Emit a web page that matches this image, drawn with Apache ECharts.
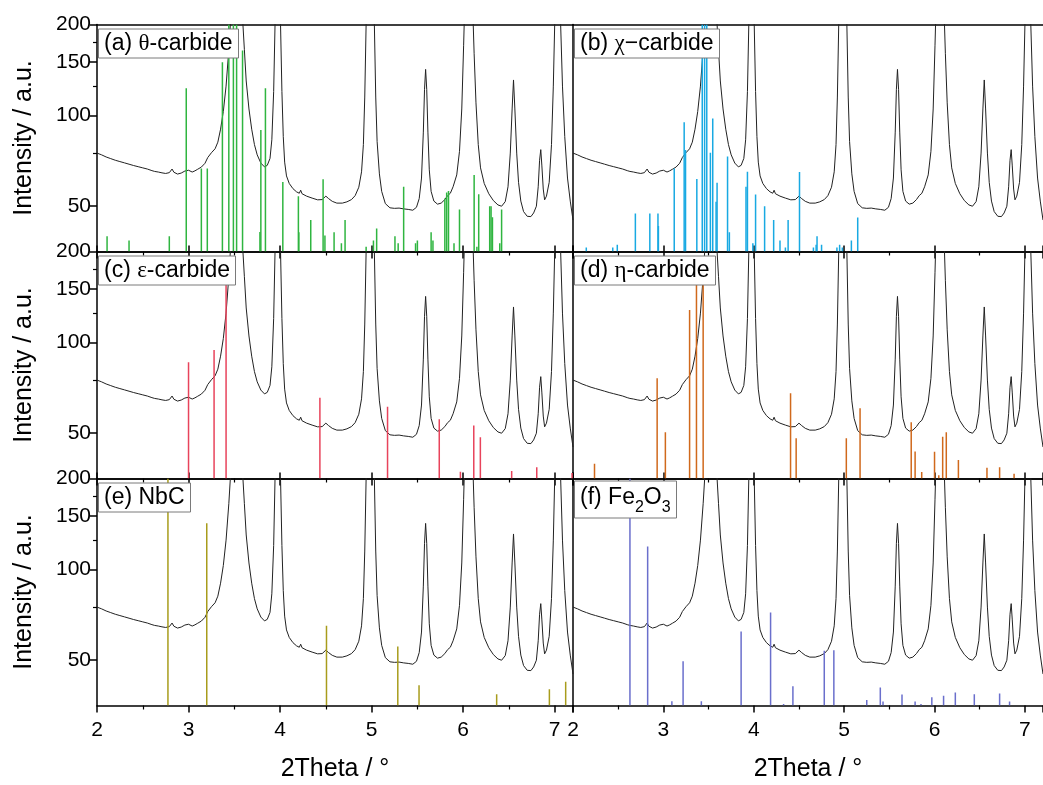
<!DOCTYPE html>
<html>
<head>
<meta charset="utf-8">
<script src="https://cdn.jsdelivr.net/npm/echarts@6/dist/echarts.min.js"></script>
<style>
html,body{margin:0;padding:0;background:#fff;}
#chart{width:1043px;height:785px;}
</style>
</head>
<body>
<div id="chart"></div>
<script>
// ---------------- data ----------------
const xMin = 2, xMax = 7.2;
const yMin = 35.4, yMax = 200;
const yTickValues = [50, 100, 150, 200];
const yMinorTickValues = [75, 125, 175];
const xTitle = '2Theta / °';
const yTitle = 'Intensity / a.u.';

// measured XRD pattern (2theta, intensity)
const pattern = [
[2.00,75.0],[2.05,74.0],[2.10,72.8],[2.15,71.9],[2.20,71.0],[2.25,70.3],[2.30,69.6],[2.35,68.9],
[2.40,68.2],[2.45,67.6],[2.50,67.0],[2.55,66.4],[2.60,65.6],[2.63,65.2],[2.65,66.2],[2.67,64.9],
[2.71,64.5],[2.75,64.2],[2.79,64.6],[2.82,66.4],[2.84,64.8],[2.88,63.9],[2.92,64.4],[2.96,65.4],
[3.00,65.8],[3.04,64.9],[3.07,65.5],[3.10,66.3],[3.14,67.4],[3.18,69.4],[3.21,72.5],[3.25,75.2],
[3.29,77.5],[3.32,81.5],[3.35,90],[3.38,103],[3.41,125],[3.44,165],[3.465,220],[3.50,520],
[3.53,700],[3.56,480],[3.59,210],[3.61,165],[3.63,130],[3.66,105],[3.69,90],[3.72,80],
[3.75,74],[3.79,69.5],[3.83,67.5],[3.86,68.3],[3.89,72],[3.91,83],[3.93,120],[3.945,200],
[3.975,800],[4.005,200],[4.02,120],[4.035,85],[4.05,70],[4.07,63],[4.10,59.5],[4.14,57.2],
[4.18,55.8],[4.21,55.2],[4.225,56.5],[4.24,55.0],[4.29,54.0],[4.35,53.2],[4.41,52.5],[4.46,52.6],
[4.50,54.0],[4.53,53.0],[4.57,51.9],[4.62,51.2],[4.68,51.2],[4.73,51.7],[4.78,52.6],[4.82,54.2],
[4.86,57.8],[4.89,65],[4.91,80],[4.925,115],[4.94,200],[4.985,1500],[5.03,200],[5.045,115],
[5.06,82],[5.085,64],[5.11,56],[5.15,51],[5.20,49.4],[5.25,49.2],[5.30,49.3],[5.35,49.0],
[5.40,48.8],[5.45,48.5],[5.49,49.6],[5.52,53],[5.545,62],[5.565,88],[5.578,122],[5.59,142],
[5.602,122],[5.615,88],[5.63,66],[5.65,56],[5.68,52],[5.72,50.8],[5.76,51.2],[5.80,52.6],
[5.83,54.2],[5.86,55.2],[5.89,58],[5.93,63.5],[5.96,76],[5.985,105],[6.005,170],[6.02,250],
[6.06,2000],[6.10,250],[6.12,160],[6.14,110],[6.165,80],[6.19,67],[6.23,59.5],[6.28,55],
[6.33,52.2],[6.38,50.5],[6.42,50.0],[6.46,51.8],[6.49,58],[6.515,75],[6.535,105],[6.55,131],
[6.565,105],[6.585,75],[6.605,60],[6.63,52],[6.66,48],[6.70,46.3],[6.74,46.2],[6.77,47.5],
[6.80,50],[6.82,58],[6.835,71],[6.848,77],[6.86,68],[6.875,57],[6.89,52.5],[6.91,54],
[6.94,60],[6.965,80],[6.985,125],[7.00,200],[7.03,800],[7.065,200],[7.085,125],[7.11,85],
[7.14,62],[7.17,52],[7.20,45]
];

// reference stick patterns (2theta, intensity on the panel scale)
const sticksTheta = [
[2.11,39.8],[2.35,38.5],[2.79,39.8],[2.975,123],[3.14,66.7],[3.205,66.7],[3.37,150],[3.44,400],
[3.49,400],[3.525,400],[3.59,164],[3.78,41.1],[3.79,89.4],[3.84,123],[4.03,60.2],[4.20,54],
[4.205,41],[4.335,45],[4.47,61.4],[4.49,40],[4.59,41],[4.67,37.7],[4.71,45],[4.94,36.7],
[5.02,38.5],[5.055,42.2],[5.255,39.8],[5.29,37.7],[5.35,58],[5.48,37.7],[5.50,38.5],[5.65,41],
[5.67,38.5],[5.80,53],[5.82,55.5],[5.84,56.2],[5.90,37.7],[5.96,48.8],[6.12,63.4],[6.15,36.7],
[6.17,54.8],[6.29,50],[6.305,50],[6.32,46],[6.40,37.7],[6.42,48.8]
];
const sticksChi = [
[2.147,36.5],[2.44,36.5],[2.49,37.3],[2.69,47.3],[2.85,47.3],[2.94,47.3],[2.945,43],[3.12,66.7],
[3.23,94.8],[3.245,76.8],[3.37,61.5],[3.43,400],[3.456,400],[3.48,400],[3.52,75.2],[3.546,97.7],
[3.583,51.7],[3.594,59.8],[3.71,73],[3.73,41],[3.914,58],[3.93,65],[3.99,37.7],[4.02,54.7],
[4.12,50],[4.22,45],[4.29,38.5],[4.35,36.5],[4.38,45],[4.506,64.9],[4.66,36.5],[4.69,37.3],
[4.70,39.8],[4.75,37.3],[4.92,36.5],[4.95,37.3],[4.98,36.5],[5.08,38.5],[5.15,45.9]
];
const sticksEps = [
[3.0,86],[3.279,94.4],[3.41,170],[4.435,65.6],[5.174,61.2],[5.739,55.6],[5.97,37.3],[6.116,53],
[6.188,48.5],[6.53,37.5],[6.804,38.6],[7.19,36.9]
];
const sticksEta = [
[2.238,39.6],[2.931,76],[3.022,50.4],[3.29,128],[3.366,165],[3.44,165],[4.407,67.8],[4.469,48.1],
[5.024,48.1],[5.176,60.5],[5.742,54.4],[5.785,43.5],[5.858,37.2],[6.0,43.4],[6.047,36.3],[6.09,48.7],
[6.13,50.4],[6.264,40.8],[6.58,38.4],[6.72,38.6],[6.88,36.7]
];
const sticksNbC = [
[2.775,400],[3.199,142.2],[4.507,65],[5.286,55.5],[5.518,41.3],[6.366,38.6],[6.942,40.1],[7.12,42.4]
];
const sticksFe2O3 = [
[2.63,400],[2.826,119],[3.094,36.6],[3.218,49.6],[3.42,36.6],[3.86,62.2],[4.186,71.9],[4.33,35.8],
[4.433,41],[4.78,53.7],[4.886,54],[5.25,36.9],[5.40,40.6],[5.43,36.5],[5.64,38.5],[5.785,36.5],
[5.85,35.8],[5.97,37.7],[6.1,38.1],[6.23,39.1],[6.44,38.6],[6.72,38.8],[6.83,36.5]
];

const panelLabels = [
  '{t|(a) }{g|θ}{t|-carbide}',
  '{t|(b) }{g|χ}{t|−carbide}',
  '{t|(c) }{g|ε}{t|-carbide}',
  '{t|(d) }{g|η}{t|-carbide}',
  '{t|(e) NbC}',
  '{t|(f) Fe}{s|2}{t|O}{s|3}'
];
const panelSticks = [sticksTheta, sticksChi, sticksEps, sticksEta, sticksNbC, sticksFe2O3];
const panelColors = ['#2fb540', '#18a9e2', '#e8435b', '#d0691c', '#a89c1c', '#6a6fcc'];

// ---------------- layout ----------------
const FONT = 'Liberation Sans, Arial, sans-serif';
const gridLefts = [97, 573];
const gridTops = [24.5, 251.5, 478.5];
const gridW = 476, gridH = 227;

const grids = [], xAxes = [], yAxes = [], series = [], titles = [];
const axisLineStyle = { color: '#000', width: 1.5 };

panelSticks.forEach(function (sticks, i) {
  const col = i % 2, row = Math.floor(i / 2);
  const bottomRow = row === 2;
  grids.push({ left: gridLefts[col], top: gridTops[row], width: gridW, height: gridH });

  xAxes.push({
    gridIndex: i, type: 'value', position: 'bottom', min: xMin, max: xMax, interval: 1,
    axisLine: { show: true, onZero: false, lineStyle: axisLineStyle },
    axisTick: { show: true, inside: false, length: 7, lineStyle: { color: '#000', width: 1.5 } },
    minorTick: { show: true, splitNumber: 2, length: 4, lineStyle: { color: '#000', width: 1.2 } },
    axisLabel: { show: bottomRow, fontSize: 21, color: '#000', margin: 14, fontFamily: FONT },
    splitLine: { show: false }, minorSplitLine: { show: false },
    name: bottomRow ? xTitle : '', nameLocation: 'middle', nameGap: 51,
    nameTextStyle: { fontSize: 25, color: '#000', fontFamily: FONT }
  });
  xAxes.push({
    gridIndex: i, type: 'value', position: 'top', min: xMin, max: xMax, interval: 1,
    axisLine: { show: true, onZero: false, lineStyle: axisLineStyle },
    axisTick: { show: row > 0, inside: false, length: 6, lineStyle: { color: '#000', width: 1.5 } },
    axisLabel: { show: false }, splitLine: { show: false }
  });

  yAxes.push({
    gridIndex: i, type: 'log', logBase: 10, min: yMin, max: yMax, position: 'left',
    axisLine: { show: true, onZero: false, lineStyle: axisLineStyle },
    axisTick: { show: col === 0, inside: false, length: 7, customValues: yTickValues,
                lineStyle: { color: '#000', width: 1.5 } },
    axisLabel: { show: col === 0, customValues: yTickValues, fontSize: 21, color: '#000',
                 margin: 6, fontFamily: FONT },
    splitLine: { show: false }, minorTick: { show: false },
    name: col === 0 ? yTitle : '', nameLocation: 'middle', nameGap: 60, nameRotate: 90,
    nameTextStyle: { fontSize: 25, color: '#000', fontFamily: FONT }
  });
  yAxes.push({
    gridIndex: i, type: 'log', logBase: 10, min: yMin, max: yMax, position: 'left',
    axisLine: { show: false },
    axisTick: { show: col === 0, inside: false, length: 4, customValues: yMinorTickValues,
                lineStyle: { color: '#000', width: 1.2 } },
    axisLabel: { show: false }, splitLine: { show: false }
  });

  series.push({
    type: 'line', xAxisIndex: 2 * i, yAxisIndex: 2 * i, data: pattern,
    showSymbol: false, symbol: 'none', clip: true, silent: true, z: 3,
    lineStyle: { color: '#222', width: 1 }
  });
  const color = panelColors[i];
  series.push({
    type: 'custom', xAxisIndex: 2 * i, yAxisIndex: 2 * i, data: sticks,
    encode: { x: 0, y: 1 }, clip: true, silent: true, z: 4,
    renderItem: function (params, api) {
      const x = api.value(0);
      const v = Math.min(api.value(1), yMax);
      const p0 = api.coord([x, yMin]);
      const p1 = api.coord([x, v]);
      return {
        type: 'line',
        shape: { x1: p0[0], y1: p0[1], x2: p1[0], y2: p1[1] },
        style: { stroke: color, lineWidth: 1.5 }
      };
    }
  });

  titles.push({
    text: panelLabels[i],
    left: gridLefts[col] + 1, top: gridTops[row] + 2,
    padding: [3, 6, 3, 6],
    borderWidth: 1, borderColor: '#7a7a7a', backgroundColor: '#fff',
    textStyle: {
      fontWeight: 'normal', fontSize: 23, fontFamily: FONT, color: '#000',
      rich: {
        t: { fontSize: 23, fontWeight: 'normal', fontFamily: FONT, color: '#000', lineHeight: 28 },
        g: { fontSize: 23, fontWeight: 'normal', fontFamily: 'Liberation Serif, DejaVu Serif, serif',
             color: '#000', lineHeight: 28 },
        s: { fontSize: 16, fontWeight: 'normal', fontFamily: FONT, color: '#000', lineHeight: 16,
             padding: [16, 0, 0, 0], verticalAlign: 'top' }
      }
    }
  });
});

const chart = echarts.init(document.getElementById('chart'), null, { renderer: 'canvas' });
chart.setOption({
  animation: false,
  backgroundColor: '#fff',
  title: titles,
  grid: grids,
  xAxis: xAxes,
  yAxis: yAxes,
  series: series
});
</script>
</body>
</html>
